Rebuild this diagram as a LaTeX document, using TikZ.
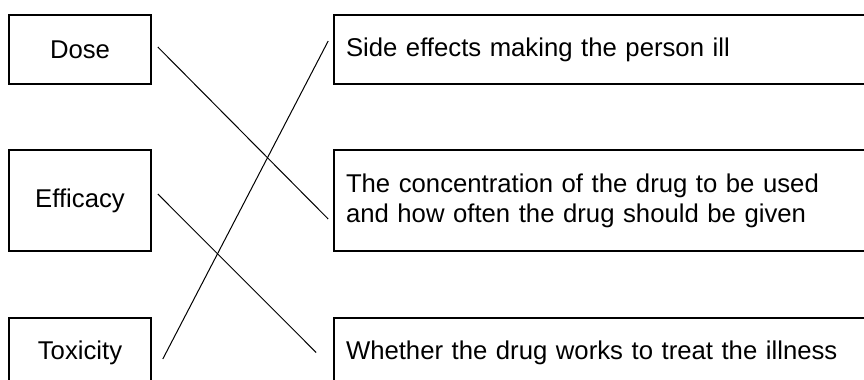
\documentclass[tikz,border=0pt]{standalone}
\usepackage{fontspec}
\setmainfont{Liberation Sans}
\begin{document}
\begin{tikzpicture}[x=0.5pt,y=-0.5pt,
  termbox/.style={draw,line width=0.8pt,minimum width=71pt,minimum height=34.5pt,inner sep=0pt,font=\fontsize{12.85}{15}\selectfont},
  meaningbox/.style={draw,line width=0.8pt,text width=258pt,inner xsep=6pt,inner ysep=0pt,align=left,font=\fontsize{12.85}{15}\selectfont},
  match/.style={line width=0.5pt}]
\useasboundingbox (0,0) rectangle (864,380);
\clip (0,0) rectangle (864,380);
% left column: terms
\node[termbox] (dose) at (80,49.5) {Dose};
\node[termbox,minimum height=50.5pt] (efficacy) at (80,200.5) {Efficacy};
\node[termbox] (toxicity) at (80,352.5) {Toxicity};
% right column: meanings
\node[meaningbox,minimum height=34.5pt] (sideeffects) at (604,49.5) {Side effects making the person ill};
\node[meaningbox,minimum height=50.5pt] (concentration) at (604,200.5) {The concentration of the drug to be used\\and how often the drug should be given};
\node[meaningbox,minimum height=34.5pt] (works) at (604,352.5) {Whether the drug works to treat the illness};
% matching lines
\draw[match] ([xshift=3pt,yshift=1.25pt]dose.east) -- ([xshift=-2.5pt,yshift=-9.25pt]concentration.west);
\draw[match] ([xshift=-2.5pt,yshift=4.25pt]sideeffects.west) -- ([xshift=5.5pt,yshift=-3.25pt]toxicity.east);
\draw[match] ([xshift=3pt,yshift=3.25pt]efficacy.east) -- ([xshift=-8.5pt]works.west);
\end{tikzpicture}
\end{document}
